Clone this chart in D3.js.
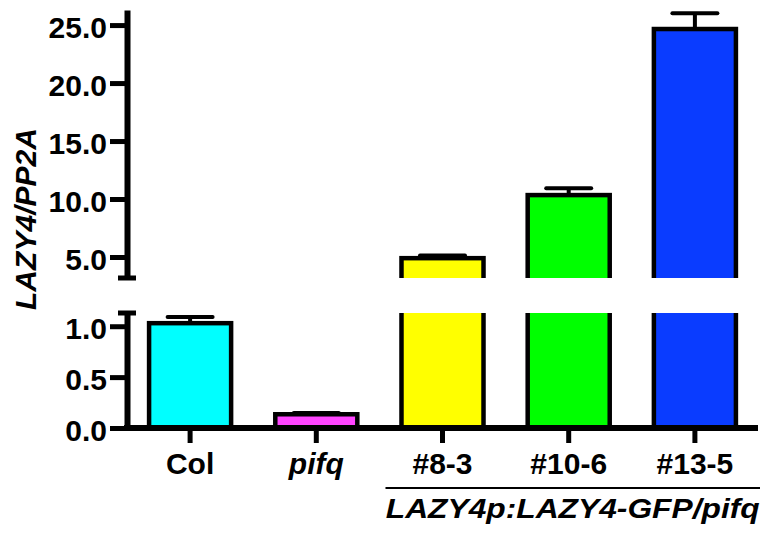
<!DOCTYPE html>
<html>
<head>
<meta charset="utf-8">
<script src="https://cdn.jsdelivr.net/npm/d3@7"></script>
<style>
  body { margin: 0; background: #fff; }
  svg { display: block; }
  text { font-family: "Liberation Sans", Arial, sans-serif; font-weight: bold; }
</style>
</head>
<body>
<svg id="chart" width="761" height="536"></svg>
<script>
// ---- data ----
const categories = ["Col", "pifq", "#8-3", "#10-6", "#13-5"];
const italicCats = ["pifq"];
const values = [1.03, 0.135, 4.9, 10.34, 24.66];
const errors = [0.06, 0.012, 0.22, 0.6, 1.37];
const colors = ["#00ffff", "#ff44ff", "#ffff00", "#00ff00", "#0a3cff"];
const upperTicks = [5, 10, 15, 20, 25];
const lowerTicks = [0, 0.5, 1.0];
const yLabel = "LAZY4/PP2A";
const groupLabel = "LAZY4p:LAZY4-GFP/pifq";

// ---- layout ----
const svg = d3.select("#chart");
const axisX = 127, axisRight = 758;
const x = d3.scaleBand().domain(categories).range([axisX, axisRight]).paddingInner(0.35).paddingOuter(0.175);
const yUp = d3.scaleLinear().domain([3.19, 26.3]).range([278, 10]);
const yLo = d3.scaleLinear().domain([0, 1.13]).range([428, 313]);

const defs = svg.append("defs");
defs.append("clipPath").attr("id", "clipUp").append("rect")
  .attr("x", 0).attr("y", 0).attr("width", 761).attr("height", yUp.range()[0]);
defs.append("clipPath").attr("id", "clipLo").append("rect")
  .attr("x", 0).attr("y", yLo.range()[1]).attr("width", 761).attr("height", yLo.range()[0] - yLo.range()[1]);

const data = categories.map((c, i) => ({ c, v: values[i], e: errors[i], col: colors[i] }));

function drawBars(y, clip) {
  const g = svg.append("g").attr("clip-path", `url(#${clip})`);
  const base = y.range()[0] + 40;
  g.selectAll("rect").data(data).join("rect")
    .attr("x", d => x(d.c))
    .attr("width", x.bandwidth())
    .attr("y", d => y(d.v))
    .attr("height", d => Math.max(0, base - y(d.v)))
    .attr("fill", d => d.col)
    .attr("stroke", "#000")
    .attr("stroke-width", 4.5);
  // error bars
  const eg = g.selectAll("g.err").data(data).join("g").attr("class", "err");
  eg.append("line")
    .attr("x1", d => x(d.c) + x.bandwidth() / 2).attr("x2", d => x(d.c) + x.bandwidth() / 2)
    .attr("y1", d => y(d.v)).attr("y2", d => y(d.v + d.e))
    .attr("stroke", "#000").attr("stroke-width", 4);
  eg.append("line")
    .attr("x1", d => x(d.c) + x.bandwidth() / 2 - 22.5).attr("x2", d => x(d.c) + x.bandwidth() / 2 + 22.5)
    .attr("y1", d => y(d.v + d.e)).attr("y2", d => y(d.v + d.e))
    .attr("stroke", "#000").attr("stroke-width", 4).attr("stroke-linecap", "round");
}
drawBars(yUp, "clipUp");
drawBars(yLo, "clipLo");

// ---- y axes ----
function drawYAxis(y, ticks) {
  const g = svg.append("g").attr("transform", `translate(${axisX},0)`)
    .call(d3.axisLeft(y).tickValues(ticks).tickFormat(d3.format(".1f")).tickSize(17).tickSizeOuter(0).tickPadding(3));
  g.select(".domain").attr("stroke", "#000").attr("stroke-width", 6);
  g.selectAll(".tick line").attr("stroke", "#000").attr("stroke-width", 5);
  g.selectAll(".tick text").attr("fill", "#000").attr("font-size", 30).attr("dy", "0.4em")
    .style("font-family", "'Liberation Sans', Arial, sans-serif").style("font-weight", "bold");
  return g;
}
drawYAxis(yUp, upperTicks);
drawYAxis(yLo, lowerTicks);
// break caps
svg.append("line").attr("x1", axisX - 9).attr("x2", axisX + 9)
  .attr("y1", yUp.range()[0]).attr("y2", yUp.range()[0]).attr("stroke", "#000").attr("stroke-width", 5);
svg.append("line").attr("x1", axisX - 9).attr("x2", axisX + 9)
  .attr("y1", yLo.range()[1]).attr("y2", yLo.range()[1]).attr("stroke", "#000").attr("stroke-width", 5);

// ---- x axis ----
const xg = svg.append("g").attr("transform", `translate(0,${yLo(0)})`)
  .call(d3.axisBottom(x).tickSize(15).tickSizeOuter(0).tickPadding(10));
xg.select(".domain").attr("stroke", "#000").attr("stroke-width", 6)
  .attr("d", `M${axisX - 3},0H${axisRight}`);
xg.selectAll(".tick line").attr("stroke", "#000").attr("stroke-width", 5);
xg.selectAll(".tick text").attr("fill", "#000").attr("font-size", 30)
  .style("font-family", "'Liberation Sans', Arial, sans-serif").style("font-weight", "bold")
  .style("font-style", d => italicCats.includes(d) ? "italic" : "normal");

// group line + label
const gx0 = x("#8-3") - 16, gx1 = axisRight + 2;
svg.append("line").attr("x1", gx0).attr("x2", gx1).attr("y1", 488).attr("y2", 488)
  .attr("stroke", "#000").attr("stroke-width", 2);
svg.append("text").attr("x", (gx0 + gx1) / 2).attr("y", 518).attr("text-anchor", "middle")
  .attr("font-size", 28).style("font-style", "italic")
  .attr("textLength", 374).attr("lengthAdjust", "spacingAndGlyphs")
  .text(groupLabel);

// y label
svg.append("text").attr("transform", "translate(36,219) rotate(-90)")
  .attr("text-anchor", "middle").attr("font-size", 30).style("font-style", "italic")
  .attr("textLength", 182).attr("lengthAdjust", "spacingAndGlyphs")
  .text(yLabel);
</script>
</body>
</html>
